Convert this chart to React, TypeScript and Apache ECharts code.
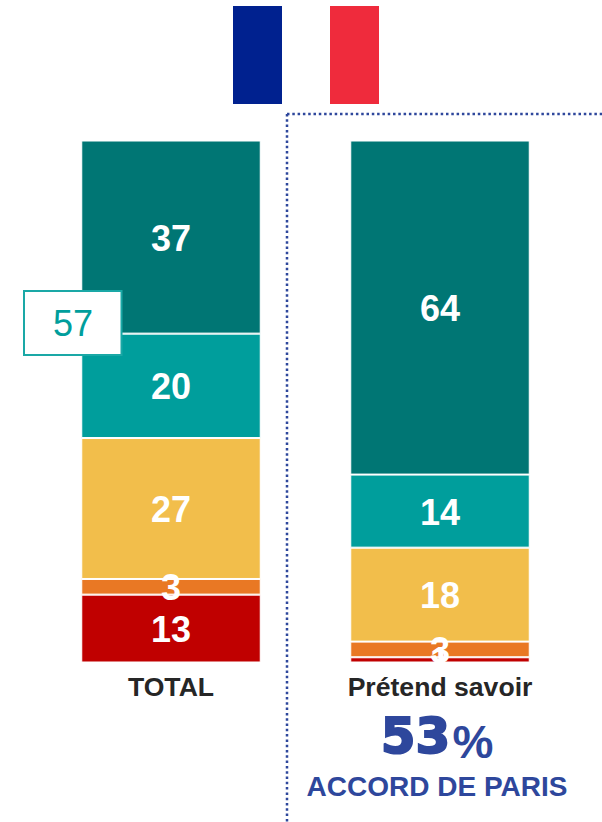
import React, { useEffect, useRef } from "react";
import * as echarts from "echarts";

const categories = ["TOTAL", "Prétend savoir"];
const seriesNames = ["Rouge", "Orange", "Jaune", "Turquoise", "Vert"];
const red = [13, 1];
const orange = [3, 3];
const yellow = [27, 18];
const teal = [20, 14];
const green = [37, 64];
const colors = ["#C00000", "#E97824", "#F2BE4B", "#009E9C", "#007674"];
const agreeTotal = "57";
const headline = "53";
const headlineUnit = "%";
const caption = "ACCORD DE PARIS";

export default function App() {
  const ref = useRef<HTMLDivElement>(null);
  useEffect(() => {
    document.body.style.margin = "0";
    const chart = echarts.init(ref.current!, undefined, { renderer: "svg" });
    const values = [red, orange, yellow, teal, green];
    const blue = "#2E479C";
    chart.setOption({
      animation: false,
      backgroundColor: "#FFFFFF",
      textStyle: { fontFamily: "'Liberation Sans', Arial, sans-serif" },
      grid: { left: 36.5, top: 140.5, width: 538, height: 522 },
      xAxis: {
        type: "category",
        data: categories,
        axisLine: { show: false },
        axisTick: { show: false },
        axisLabel: {
          color: "#262626",
          fontSize: 26.6,
          fontWeight: "bold",
          margin: 11,
          fontFamily: "'Liberation Sans', Arial, sans-serif",
        },
      },
      yAxis: { type: "value", min: 0, max: 100, show: false },
      series: values.map((data, i) => ({
        name: seriesNames[i],
        type: "bar",
        stack: "total",
        barWidth: 179.5,
        data,
        itemStyle: { color: colors[i], borderColor: "#FFFFFF", borderWidth: 1 },
        label: {
          show: true,
          position: "inside",
          offset: [0, 1],
          color: "#FFFFFF",
          fontSize: 36,
          fontWeight: "bold",
          fontFamily: "'Liberation Sans', Arial, sans-serif",
        },
      })),
      graphic: [
        { type: "rect", shape: { x: 233, y: 6, width: 49, height: 98 }, style: { fill: "#00218F" } },
        { type: "rect", shape: { x: 330, y: 6, width: 49, height: 98 }, style: { fill: "#EF2B3C" } },
        { type: "line", shape: { x1: 287, y1: 114, x2: 602, y2: 114 }, style: { stroke: blue, lineWidth: 2.5, lineDash: [2.5, 2.8] } },
        { type: "line", shape: { x1: 287, y1: 114, x2: 287, y2: 822 }, style: { stroke: blue, lineWidth: 2.5, lineDash: [2.5, 2.8] } },
        { type: "rect", z: 10, shape: { x: 24, y: 291, width: 97.5, height: 64 }, style: { fill: "#FFFFFF", stroke: "#1AA8A6", lineWidth: 2 } },
        { type: "text", z: 11, x: 73, y: 323, style: { text: agreeTotal, fill: "#009E9C", font: "36px 'Liberation Sans', Arial, sans-serif", textAlign: "center", textVerticalAlign: "middle" } },
        { type: "text", z: 11, x: 415.5, y: 736, style: { text: headline, fill: blue, stroke: blue, lineWidth: 2, font: "bold 50px 'DejaVu Sans', sans-serif", textAlign: "center", textVerticalAlign: "middle" } },
        { type: "text", z: 11, x: 473, y: 742, style: { text: headlineUnit, fill: blue, font: "bold 46px 'Liberation Sans', Arial, sans-serif", textAlign: "center", textVerticalAlign: "middle" } },
        { type: "text", z: 11, x: 437, y: 786, style: { text: caption, fill: blue, font: "bold 28px 'Liberation Sans', Arial, sans-serif", textAlign: "center", textVerticalAlign: "middle" } },
      ],
    });
    return () => chart.dispose();
  }, []);
  return <div ref={ref} style={{ width: 602, height: 822 }} />;
}
